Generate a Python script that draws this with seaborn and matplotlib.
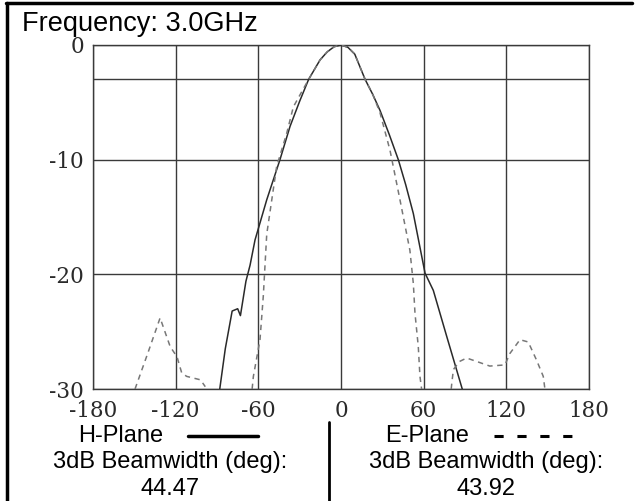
import pandas as pd
import matplotlib.pyplot as plt
import seaborn as sns
from matplotlib.lines import Line2D

# ---- data ----
h_angle = [-88, -84, -79, -75, -73, -69, -66, -62.4, -53.9, -44.3, -37.0, -30, -23.5, -15.2,
           -10, -5, 0, 5, 10, 17.5, 23, 28.3, 35, 41.6, 47, 52.5, 61, 67, 76.7, 88]
h_db = [-30, -26.5, -23.2, -23.0, -23.6, -20.6, -19.2, -17.0, -13.5, -10.0, -7.1, -4.9, -3.0, -1.3,
        -0.6, -0.15, 0, -0.2, -0.8, -3.0, -4.3, -5.7, -7.8, -10.0, -12.2, -14.7, -19.9, -21.4, -25.4, -30]

e_left_angle = [-149.5, -140, -131.3, -124, -119, -115.6, -112, -102, -98.5]
e_left_db = [-30, -26.8, -23.8, -26.3, -27.2, -28.6, -28.9, -29.2, -29.8]

e_main_angle = [-64.5, -63.6, -58.8, -56.4, -53.9, -46.7, -39.4, -34.6, -30, -23.5, -15.2, -10, -5, 0,
                5, 10, 17.5, 23, 28.3, 35.6, 42.8, 50, 52.5, 53.7, 56.1, 57.3, 58.5]
e_main_db = [-30, -28.9, -25.7, -21.9, -16.5, -10.6, -7.7, -5.4, -4.4, -3.0, -1.3, -0.6, -0.15, 0,
             -0.2, -0.8, -3.0, -4.3, -5.9, -9.2, -13.5, -17.9, -20.8, -23.4, -26.3, -28.9, -30]

e_right_angle = [80, 80.4, 81.6, 86, 91.2, 98.5, 108, 119, 122.6, 129.9, 135.9, 142, 146.8, 148]
e_right_db = [-30, -29.5, -28.3, -27.6, -27.3, -27.6, -28.0, -27.9, -26.9, -25.7, -25.9, -27.5, -28.9, -30]

x_ticks = [-180, -120, -60, 0, 60, 120, 180]
y_ticks = [0, -10, -20, -30]
ref_level = -3

title = "Frequency: 3.0GHz"
h_width = "44.47"
e_width = "43.92"

frames = []
for plane, seg, a, d in [("H-Plane", "h", h_angle, h_db),
                         ("E-Plane", "e1", e_left_angle, e_left_db),
                         ("E-Plane", "e2", e_main_angle, e_main_db),
                         ("E-Plane", "e3", e_right_angle, e_right_db)]:
    frames.append(pd.DataFrame({"angle": a, "dB": d, "plane": plane, "seg": seg}))
df = pd.concat(frames, ignore_index=True)

sns.set_style("white")
plt.rcParams["font.family"] = ["Liberation Sans", "DejaVu Sans"]
plt.rcParams["axes.unicode_minus"] = False

W, H = 643, 501
fig = plt.figure(figsize=(W / 100, H / 100), dpi=100)
ax = fig.add_axes([93 / W, 1 - 389 / H, 496 / W, 344 / H])

grid_c = "#3a3a3a"
sns.lineplot(data=df, x="angle", y="dB", hue="plane", style="plane", units="seg",
             estimator=None, palette={"H-Plane": "#2a2a2a", "E-Plane": "#777777"},
             dashes={"H-Plane": "", "E-Plane": (3.5, 3)}, linewidth=1.1,
             legend=False, ax=ax, zorder=3)

ax.set_xlim(-180, 180)
ax.set_ylim(-30, 0)
ax.set_xticks(x_ticks)
ax.set_yticks(y_ticks)
ax.set_xticklabels([str(t) for t in x_ticks])
ax.set_yticklabels([str(t) for t in y_ticks])
ax.grid(True, color=grid_c, linewidth=1.0)
ax.axhline(ref_level, color=grid_c, linewidth=1.0)
for s in ax.spines.values():
    s.set_color(grid_c)
    s.set_linewidth(1.0)
ax.tick_params(axis="both", direction="out", length=5, width=1.0, color=grid_c,
               labelcolor="#2a2a2a", labelsize=15.5, pad=1.5)
ax.tick_params(axis="x", pad=3)
for lab in ax.get_xticklabels() + ax.get_yticklabels():
    lab.set_family("DejaVu Serif")
ax.set_xlabel("")
ax.set_ylabel("")

def ft(x, y, s, **kw):
    fig.text(x / W, 1 - y / H, s, color="black", **kw)

ft(22, 31, title, fontsize=19.5, ha="left", va="baseline")

ft(78, 442, "H-Plane", fontsize=17, ha="left", va="baseline")
ft(170, 468, "3dB Beamwidth (deg):", fontsize=17, ha="center", va="baseline")
ft(170, 495, h_width, fontsize=17, ha="center", va="baseline")
ft(385, 442, "E-Plane", fontsize=17, ha="left", va="baseline")
ft(486, 468, "3dB Beamwidth (deg):", fontsize=17, ha="center", va="baseline")
ft(486, 495, e_width, fontsize=17, ha="center", va="baseline")

def fl(xs, ys, **kw):
    fig.add_artist(Line2D([x / W for x in xs], [1 - y / H for y in ys],
                          transform=fig.transFigure, color="black", **kw))

fl([188, 258], [436, 436], linewidth=2.5)
fl([494, 576], [436, 436], linewidth=2.2, dashes=(3, 4.5))
fl([329, 329], [422, 501], linewidth=2)
fl([7, 7], [3, 501], linewidth=2.5)
fl([6, 632], [3, 3], linewidth=2.5)

fig.savefig("out.png", dpi=100, facecolor="white")
